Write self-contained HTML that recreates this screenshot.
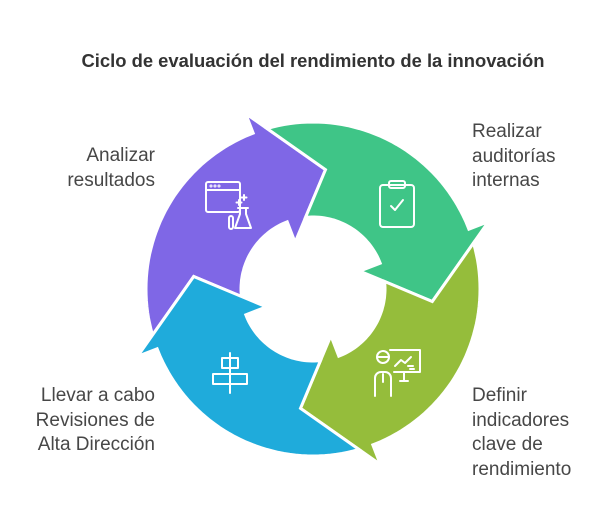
<!DOCTYPE html>
<html><head><meta charset="utf-8"><style>
body{margin:0;background:#fff;width:614px;height:530px;overflow:hidden;font-family:"Liberation Sans",sans-serif;}
.t{position:absolute;font-size:19px;color:#474747;line-height:24.5px;}
.r{text-align:right;}
</style></head><body>
<div style="position:absolute;left:0;width:626px;top:50px;text-align:center;font-weight:bold;font-size:18.4px;color:#333">Ciclo de evaluación del rendimiento de la innovación</div>
<div class="t r" style="right:459px;top:144px">Analizar<br>resultados</div>
<div class="t" style="left:472px;top:120px">Realizar<br>auditorías<br>internas</div>
<div class="t r" style="right:459px;top:384px">Llevar a cabo<br>Revisiones de<br>Alta Dirección</div>
<div class="t" style="left:472px;top:384px">Definir<br>indicadores<br>clave de<br>rendimiento</div>
<svg id="s" width="614" height="530" style="position:absolute;left:0;top:0"></svg>
<script>
var cx=313,cy=289,RO=167,RI=72,HO=188,HI=50,RM=120,TIP=27;
function P(a,r){var t=a*Math.PI/180;return [cx+r*Math.sin(t),cy-r*Math.cos(t)];}
function cross(p,q,R){
 var lo=0,hi=1;function rr(u){var x=p[0]+(q[0]-p[0])*u-cx,y=p[1]+(q[1]-p[1])*u-cy;return Math.sqrt(x*x+y*y);}
 var f0=rr(0)-R;for(var i=0;i<40;i++){var m=(lo+hi)/2;if((rr(m)-R)*f0>0)lo=m;else hi=m;}
 var u=(lo+hi)/2;return [p[0]+(q[0]-p[0])*u,p[1]+(q[1]-p[1])*u];}
function ang(p){return Math.atan2(p[0]-cx,-(p[1]-cy))*180/Math.PI;}
var segs=[[-21,"#7f67e6"],[69,"#3fc587"],[159,"#95bd3b"],[249,"#1fabdb"]];
var h="";
segs.forEach(function(s){
 var A=s[0],B=A-90;
 var po=P(B,HO),pt=P(B+TIP,RM),pi=P(B,HI);
 var co=cross(po,pt,RO),ci=cross(pt,pi,RI);
 var ao=ang(co),ai=ang(ci);while(ao>A)ao-=360;while(ai>A)ai-=360;
 var pts=[];
 for(var a=ao;a<A;a+=2)pts.push(P(a,RO));
 pts.push(P(A,RO),P(A,HO),P(A+TIP,RM),P(A,HI),P(A,RI));
 for(var a=A;a>ai;a-=2)pts.push(P(a,RI));
 pts.push(ci,pt,co);
 h+='<polygon points="'+pts.map(function(p){return p[0].toFixed(1)+","+p[1].toFixed(1)}).join(" ")+'" fill="'+s[1]+'" stroke="#fff" stroke-width="3" stroke-linejoin="miter"/>';
});
h+='<g fill="none" stroke="#fff" stroke-width="2" stroke-linecap="round" stroke-linejoin="round">'+
'<rect x="206" y="182" width="34" height="30" rx="2"/><line x1="206" y1="190" x2="240" y2="190"/>'+
'<circle cx="211" cy="186" r=".5"/><circle cx="215" cy="186" r=".5"/><circle cx="219" cy="186" r=".5"/>'+
'<rect x="229" y="216" width="4" height="13" rx="2"/><path d="M240 208v6l-5 14h16l-5-14v-6z"/><path d="M238 208h10M239 200v5M236.5 202.5h5M244 195v5M241.5 197.5h5"/>'+
'<rect x="380" y="185" width="34" height="42" rx="3"/><rect x="389" y="181" width="16" height="7" rx="2"/><path d="M391 206l4 4 8-10"/>'+
'<circle cx="383" cy="357" r="6"/><path d="M377 357h12M375 396v-18a6 6 0 0 1 6-6h4a6 6 0 0 1 6 6v18M383 374v8"/>'+
'<path d="M390 350h30v22h-26M404 372v9M400 381h8M395 366l6-6 4 3 6-6M408 366h5M410 369h4"/>'+
'<line x1="230" y1="353" x2="230" y2="393"/><rect x="222" y="358" width="16" height="10"/><rect x="213" y="374" width="34" height="10"/>'+
'</g>';
document.getElementById("s").innerHTML=h;
</script>
</body></html>
